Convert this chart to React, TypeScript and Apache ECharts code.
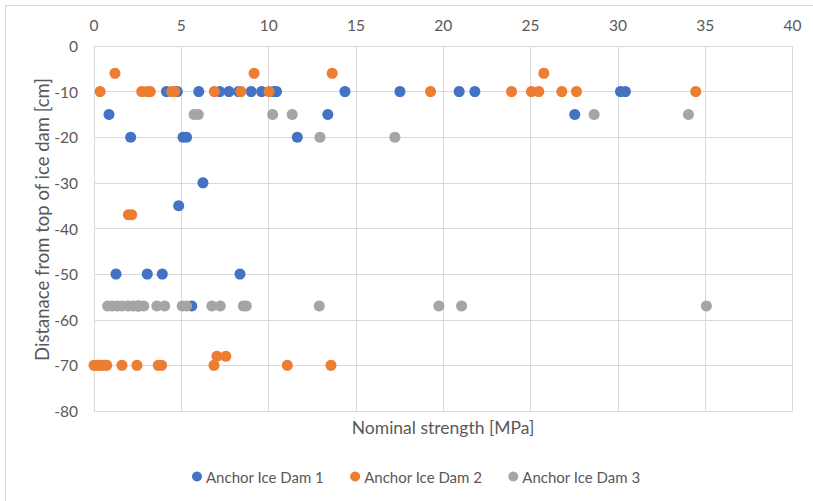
import React, { useEffect, useRef } from "react";
import * as echarts from "echarts";

// Nominal strength [MPa] vs. depth below the top of the ice dam [cm]
const dam1: [number, number][] = [
  [4.15, -10], [4.77, -10], [6.0, -10], [7.2, -10], [7.73, -10], [8.28, -10],
  [9.0, -10], [9.6, -10], [10.3, -10], [10.45, -10], [14.37, -10], [17.52, -10],
  [20.91, -10], [21.81, -10], [30.15, -10], [30.43, -10],
  [0.86, -15], [13.39, -15], [27.53, -15],
  [2.1, -20], [5.1, -20], [5.3, -20], [11.64, -20],
  [6.24, -30],
  [4.85, -35],
  [1.26, -50], [3.05, -50], [3.91, -50], [8.36, -50],
  [2.55, -57], [5.6, -57],
];

const dam2: [number, number][] = [
  [1.2, -6], [9.17, -6], [13.64, -6], [25.76, -6],
  [0.35, -10], [2.73, -10], [3.05, -10], [3.22, -10], [4.45, -10], [4.62, -10],
  [6.89, -10], [8.41, -10], [10.03, -10], [19.27, -10], [23.91, -10], [25.05, -10],
  [25.47, -10], [26.79, -10], [27.63, -10], [34.46, -10],
  [1.97, -37], [2.16, -37],
  [7.04, -68], [7.55, -68],
  [0, -70], [0.2, -70], [0.38, -70], [0.6, -70], [0.73, -70], [1.6, -70],
  [2.46, -70], [3.68, -70], [3.87, -70], [6.87, -70], [11.07, -70], [13.57, -70],
];

const dam3: [number, number][] = [
  [5.73, -15], [5.97, -15], [10.23, -15], [11.35, -15], [28.64, -15], [34.04, -15],
  [12.94, -20], [17.23, -20],
  [0.78, -57], [1.05, -57], [1.35, -57], [1.6, -57], [1.95, -57], [2.25, -57],
  [2.45, -57], [2.85, -57], [3.6, -57], [4.05, -57], [5.05, -57], [5.3, -57],
  [6.75, -57], [7.23, -57], [8.55, -57], [8.72, -57], [12.9, -57], [19.75, -57],
  [21.05, -57], [35.07, -57],
];

const seriesNames = ["Anchor Ice Dam 1", "Anchor Ice Dam 2", "Anchor Ice Dam 3"];
const seriesColors = ["#4472C4", "#ED7D31", "#A5A5A5"];
const xTitle = "Nominal strength [MPa]";
const yTitle = "Distanace from top of ice dam [cm]";

const FONT = "Lato, 'Open Sans', sans-serif";
const TEXT = "#595959";
const GRID = "#d9d9d9";

export default function App() {
  const ref = useRef<HTMLDivElement>(null);

  useEffect(() => {
    if (!ref.current) return;
    const chart = echarts.init(ref.current, undefined, { renderer: "svg" });
    const datasets = [dam1, dam2, dam3];

    chart.setOption({
      animation: false,
      backgroundColor: "#ffffff",
      textStyle: { fontFamily: FONT },
      grid: { left: 94, right: 20.5, top: 46, bottom: 90 },
      xAxis: {
        type: "value",
        position: "top",
        min: 0,
        max: 40,
        interval: 5,
        axisLine: { show: true, onZero: false, lineStyle: { color: GRID, width: 1 } },
        axisTick: { show: false },
        axisLabel: { color: TEXT, fontSize: 15.5, fontFamily: FONT, margin: 13 },
        splitLine: { show: true, lineStyle: { color: GRID, width: 1 } },
      },
      yAxis: {
        type: "value",
        min: -80,
        max: 0,
        interval: 10,
        axisLine: { show: true, onZero: false, lineStyle: { color: GRID, width: 1 } },
        axisTick: { show: false },
        axisLabel: { color: TEXT, fontSize: 15.5, fontFamily: FONT, margin: 16 },
        splitLine: { show: true, lineStyle: { color: GRID, width: 1 } },
      },
      legend: {
        left: 187,
        top: 464,
        icon: "circle",
        itemWidth: 10,
        itemHeight: 10,
        itemGap: 26,
        textStyle: { color: TEXT, fontSize: 15, fontFamily: FONT, padding: [0, 0, 0, -1] },
        data: seriesNames,
      },
      graphic: [
        {
          type: "line",
          shape: { x1: 5.5, y1: 5.5, x2: 813, y2: 5.5 },
          style: { stroke: GRID, lineWidth: 1 },
          silent: true,
        },
        {
          type: "line",
          shape: { x1: 5.5, y1: 5.5, x2: 5.5, y2: 501 },
          style: { stroke: GRID, lineWidth: 1 },
          silent: true,
        },
        {
          type: "text",
          x: 443,
          y: 427,
          style: {
            text: xTitle,
            fill: TEXT,
            fontSize: 17.5,
            fontFamily: FONT,
            textAlign: "center",
            textVerticalAlign: "middle",
          },
        },
        {
          type: "text",
          x: 41.5,
          y: 219.5,
          rotation: Math.PI / 2,
          style: {
            text: yTitle,
            fill: TEXT,
            fontSize: 18.5,
            fontFamily: FONT,
            textAlign: "center",
            textVerticalAlign: "middle",
          },
        },
      ],
      series: datasets.map((d, i) => ({
        name: seriesNames[i],
        type: "scatter",
        data: d,
        symbol: "circle",
        symbolSize: 11,
        itemStyle: { color: seriesColors[i], opacity: 1 },
        z: 2 + i,
      })),
    });

    return () => chart.dispose();
  }, []);

  return (
    <div
      ref={ref}
      style={{ position: "fixed", left: 0, top: 0, width: 813, height: 501, background: "#fff" }}
    />
  );
}
